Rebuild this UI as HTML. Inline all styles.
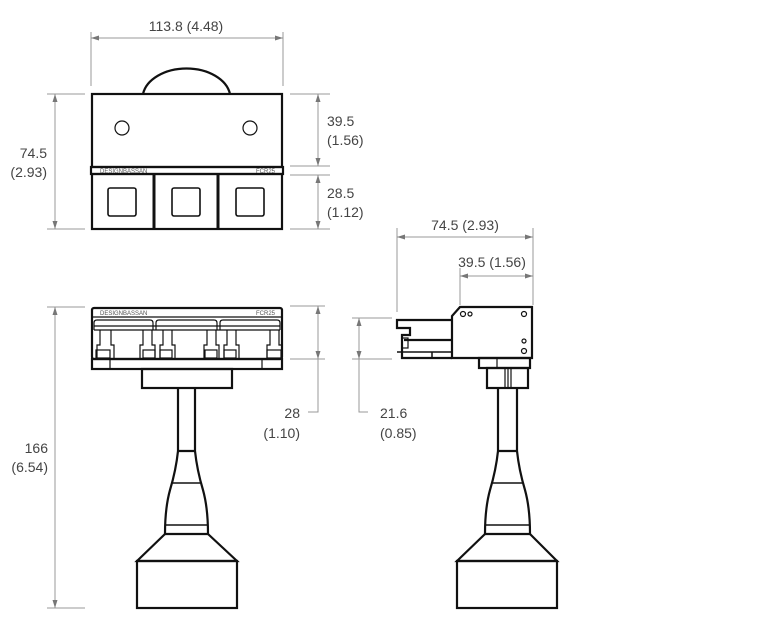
<!DOCTYPE html>
<html><head><style>
html,body{margin:0;padding:0;background:#fff;}
svg{display:block;}
text{font-family:"Liberation Sans",sans-serif;font-size:14px;fill:#444;}
.d{stroke:#999;stroke-width:1;fill:none;}
.k{stroke:#111;stroke-width:2.2;fill:none;}
.t{stroke:#111;stroke-width:1.2;fill:none;}
.a{fill:#777;}
</style></head><body>
<svg width="760" height="631" viewBox="0 0 760 631">
<!-- DIMENSIONS -->
<g class="d">
<line x1="91" y1="32" x2="91" y2="86"/><line x1="283" y1="32" x2="283" y2="86"/>
<line x1="91" y1="38" x2="283" y2="38"/>
<line x1="47" y1="94" x2="85" y2="94"/><line x1="47" y1="229" x2="85" y2="229"/>
<line x1="55" y1="94" x2="55" y2="229"/>
<line x1="290" y1="94" x2="330" y2="94"/><line x1="290" y1="166" x2="330" y2="166"/>
<line x1="290" y1="175" x2="330" y2="175"/><line x1="290" y1="229" x2="330" y2="229"/>
<line x1="318" y1="94" x2="318" y2="166"/><line x1="318" y1="175" x2="318" y2="229"/>
<line x1="47" y1="307" x2="85" y2="307"/><line x1="47" y1="608" x2="85" y2="608"/>
<line x1="55" y1="307" x2="55" y2="608"/>
<line x1="290" y1="306" x2="325" y2="306"/><line x1="290" y1="359" x2="325" y2="359"/>
<polyline points="318,306 318,412 308,412"/>
<line x1="352" y1="318" x2="392" y2="318"/><line x1="352" y1="359" x2="392" y2="359"/>
<polyline points="359,318 359,412 368,412"/>
<line x1="397" y1="228" x2="397" y2="312"/><line x1="533" y1="228" x2="533" y2="305"/>
<line x1="397" y1="237" x2="533" y2="237"/>
<line x1="460" y1="268" x2="460" y2="305"/><line x1="533" y1="276" x2="533" y2="276"/>
<line x1="460" y1="276" x2="533" y2="276"/>
</g>
<g class="a">
<polygon points="91,38 99,35.5 99,40.5"/><polygon points="283,38 275,35.5 275,40.5"/>
<polygon points="55,94 52.5,102 57.5,102"/><polygon points="55,229 52.5,221 57.5,221"/>
<polygon points="318,94 315.5,102 320.5,102"/><polygon points="318,166 315.5,158 320.5,158"/>
<polygon points="318,175 315.5,183 320.5,183"/><polygon points="318,229 315.5,221 320.5,221"/>
<polygon points="55,307 52.5,315 57.5,315"/><polygon points="55,608 52.5,600 57.5,600"/>
<polygon points="318,306 315.5,314 320.5,314"/><polygon points="318,359 315.5,351 320.5,351"/>
<polygon points="359,318 356.5,326 361.5,326"/><polygon points="359,359 356.5,351 361.5,351"/>
<polygon points="397,237 405,234.5 405,239.5"/><polygon points="533,237 525,234.5 525,239.5"/>
<polygon points="460,276 468,273.5 468,278.5"/><polygon points="533,276 525,273.5 525,278.5"/>
</g>
<text x="186" y="31" text-anchor="middle">113.8 (4.48)</text>
<text x="47" y="158" text-anchor="end">74.5</text><text x="47" y="177" text-anchor="end">(2.93)</text>
<text x="327" y="126">39.5</text><text x="327" y="145">(1.56)</text>
<text x="327" y="198">28.5</text><text x="327" y="217">(1.12)</text>
<text x="48" y="453" text-anchor="end">166</text><text x="48" y="472" text-anchor="end">(6.54)</text>
<text x="300" y="418" text-anchor="end">28</text><text x="300" y="438" text-anchor="end">(1.10)</text>
<text x="380" y="418">21.6</text><text x="380" y="438">(0.85)</text>
<text x="465" y="230" text-anchor="middle">74.5 (2.93)</text>
<text x="492" y="267" text-anchor="middle">39.5 (1.56)</text>

<!-- TOP VIEW -->
<path class="k" d="M143,94 A44,30 0 0 1 230,94"/>
<rect class="k" x="92" y="94" width="190" height="73"/>
<circle class="t" cx="122" cy="128" r="7"/><circle class="t" cx="250" cy="128" r="7"/>
<rect class="k" x="91" y="167" width="192" height="7"/>
<text x="100" y="173" style="font-size:6px;fill:#555">DESIGNBASSAN</text>
<text x="256" y="173" style="font-size:6px;fill:#555">FCR25</text>
<rect class="k" x="92" y="174" width="190" height="55"/>
<line class="k" x1="154" y1="174" x2="154" y2="229" style="stroke-width:3"/>
<line class="k" x1="218" y1="174" x2="218" y2="229" style="stroke-width:3"/>
<rect class="t" x="108" y="188" width="28" height="28" rx="2" style="stroke-width:1.6"/>
<rect class="t" x="172" y="188" width="28" height="28" rx="2" style="stroke-width:1.6"/>
<rect class="t" x="236" y="188" width="28" height="28" rx="2" style="stroke-width:1.6"/>

<!-- FRONT VIEW -->
<rect class="k" x="92" y="308" width="190" height="51" rx="2"/>
<line class="t" x1="92" y1="317" x2="282" y2="317"/>
<text x="100" y="315" style="font-size:6px;fill:#555">DESIGNBASSAN</text>
<text x="256" y="315" style="font-size:6px;fill:#555">FCR25</text>
<g class="t">
<path d="M94,330 V323 Q94,320 97,320 H150 Q153,320 153,323 V330"/>
<path d="M156,330 V323 Q156,320 159,320 H214 Q217,320 217,323 V330"/>
<path d="M220,330 V323 Q220,320 223,320 H277 Q280,320 280,323 V330"/>
<line x1="94" y1="326" x2="280" y2="326"/><line x1="94" y1="330" x2="280" y2="330"/>
<path d="M100,330 V345 H97 V358 M111,330 V345 H114 V358"/>
<path d="M143,330 V345 H140 V358 M152,330 V345 H155 V358"/>
<path d="M163,330 V345 H160 V358 M172,330 V345 H175 V358"/>
<path d="M207,330 V345 H204 V358 M216,330 V345 H219 V358"/>
<path d="M227,330 V345 H224 V358 M236,330 V345 H239 V358"/>
<path d="M270,330 V345 H267 V358 M279,330 V345 H282 V358"/>
<rect x="96" y="350" width="14" height="8"/><rect x="143" y="350" width="12" height="8"/>
<rect x="160" y="350" width="12" height="8"/><rect x="205" y="350" width="12" height="8"/>
<rect x="224" y="350" width="12" height="8"/><rect x="267" y="350" width="14" height="8"/>
</g>
<rect class="k" x="92" y="359" width="190" height="10"/>
<line class="t" x1="110" y1="359" x2="110" y2="369"/><line class="t" x1="262" y1="359" x2="262" y2="369"/>
<rect class="k" x="142" y="369" width="90" height="19"/>
<!-- front cable -->
<g class="k">
<path d="M178,388 V451 Q176,470 170,490 Q165,508 165,534"/>
<path d="M195,388 V451 Q197,470 203,490 Q208,508 208,534"/>
<line x1="178" y1="451" x2="195" y2="451"/>
<line x1="172" y1="483" x2="201" y2="483" style="stroke-width:1.5"/>
<line x1="165" y1="525" x2="208" y2="525" style="stroke-width:1.5"/>
<line x1="165" y1="534" x2="208" y2="534"/>
<path d="M165,534 L137,561 H237 L208,534"/>
<rect x="137" y="561" width="100" height="47"/>
</g>

<!-- SIDE VIEW -->
<g class="k">
<path d="M452,358 V316 L460,307 H532 V358 Z"/>
<path d="M452,320 H397 V328 H410 V335 H402 V358 H452"/>
<line x1="404" y1="340" x2="452" y2="340"/>
<line x1="397" y1="352" x2="452" y2="352" style="stroke-width:1.5"/>
<line x1="432" y1="352" x2="432" y2="358" style="stroke-width:1.5"/>
<rect x="479" y="358" width="51" height="10"/>
<rect x="487" y="368" width="41" height="20"/>
</g>
<g class="t">
<rect x="402" y="338" width="6" height="10"/>
<line x1="497" y1="358" x2="497" y2="368"/>
<line x1="505" y1="368" x2="505" y2="388"/><line x1="508" y1="368" x2="508" y2="388"/><line x1="511" y1="368" x2="511" y2="388"/>
<circle cx="463" cy="314" r="2.5"/><circle cx="470" cy="314" r="2"/>
<circle cx="524" cy="314" r="2.5"/><circle cx="524" cy="341" r="2"/><circle cx="524" cy="351" r="2.5"/>
</g>
<g class="k">
<path d="M498,388 V451 Q496,470 490,490 Q485,508 485,534"/>
<path d="M517,388 V451 Q519,470 525,490 Q530,508 530,534"/>
<line x1="498" y1="451" x2="517" y2="451"/>
<line x1="492" y1="483" x2="523" y2="483" style="stroke-width:1.5"/>
<line x1="485" y1="525" x2="530" y2="525" style="stroke-width:1.5"/>
<line x1="485" y1="534" x2="530" y2="534"/>
<path d="M485,534 L457,561 H557 L530,534"/>
<rect x="457" y="561" width="100" height="47"/>
</g>
</svg>
</body></html>
